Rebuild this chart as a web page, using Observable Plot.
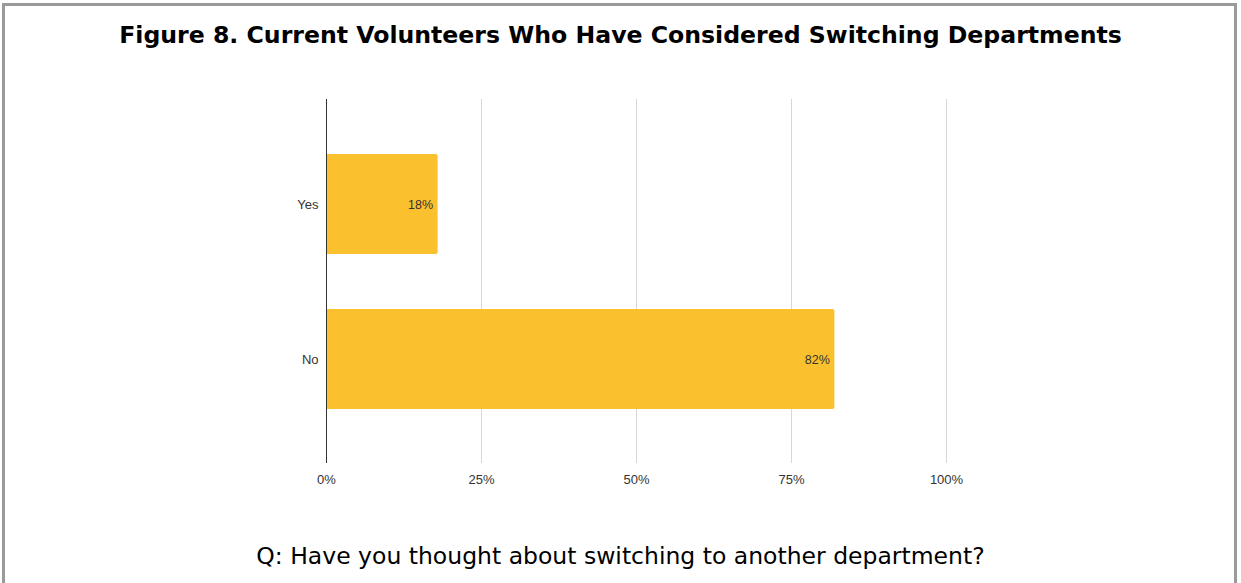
<!DOCTYPE html>
<html>
<head>
<meta charset="utf-8">
<script src="https://cdn.jsdelivr.net/npm/d3@7"></script>
<script src="https://cdn.jsdelivr.net/npm/@observablehq/plot@0.6"></script>
<style>
  html, body { margin: 0; padding: 0; background: #fff; }
  #frame {
    position: relative; width: 1241px; height: 583px; overflow: hidden;
    background: #fff;
  }
  #border {
    position: absolute; left: 2px; top: 3px; width: 1235px; height: 600px;
    border: 3px solid #9a9a9a; box-sizing: border-box;
  }
  #title {
    position: absolute; left: 0; width: 1241px; top: 19px; text-align: center;
    font-family: "DejaVu Sans", sans-serif; font-weight: bold; font-size: 23.6px;
    line-height: 32px; color: #000; white-space: nowrap;
  }
  #chart { position: absolute; left: 0; top: 0; }
  #caption {
    position: absolute; left: 0; width: 1241px; top: 540px; text-align: center;
    font-family: "DejaVu Sans", sans-serif; font-size: 23.5px; line-height: 32px; color: #000;
    white-space: nowrap;
  }
</style>
</head>
<body>
<div id="frame">
  <div id="border"></div>
  <div id="title">Figure 8. Current Volunteers Who Have Considered Switching Departments</div>
  <div id="chart"></div>
  <div id="caption">Q: Have you thought about switching to another department?</div>
</div>
<script>
const categories = ["Yes", "No"];
const shares = [0.18, 0.82];
const labels = ["18%", "82%"];
const xTicks = [0, 0.25, 0.5, 0.75, 1];

const data = categories.map((c, i) => ({answer: c, value: shares[i], label: labels[i]}));

const chart = Plot.plot({
  width: 1241,
  height: 500,
  marginTop: 99,
  marginBottom: 37,
  marginLeft: 326,
  marginRight: 295,
  style: {fontFamily: "'Liberation Sans', Arial, sans-serif", fontSize: "13px", color: "#333", background: "transparent"},
  x: {domain: [0, 1], ticks: xTicks, tickFormat: d3.format(".0%"), label: null},
  y: {domain: categories, label: null, paddingInner: 0.355, paddingOuter: 0.35},
  marks: [
    Plot.ruleX(xTicks.filter(d => d > 0), {stroke: "#d6d6d6", strokeWidth: 1}),
    Plot.barX(data, {x: "value", y: "answer", fill: "#fbc02d", rx: 2}),
    Plot.ruleX([0], {stroke: "#333", strokeWidth: 1}),
    Plot.text(data, {x: "value", y: "answer", text: "label", textAnchor: "end", dx: -5, fill: "#333", fontSize: 12.5}),
    Plot.axisX({ticks: xTicks, tickFormat: d3.format(".0%"), tickSize: 0, tickPadding: 11, label: null, fill: "#333"}),
    Plot.axisY({tickSize: 0, tickPadding: 8, label: null, fill: "#333"})
  ]
});
document.getElementById("chart").appendChild(chart);
</script>
</body>
</html>
